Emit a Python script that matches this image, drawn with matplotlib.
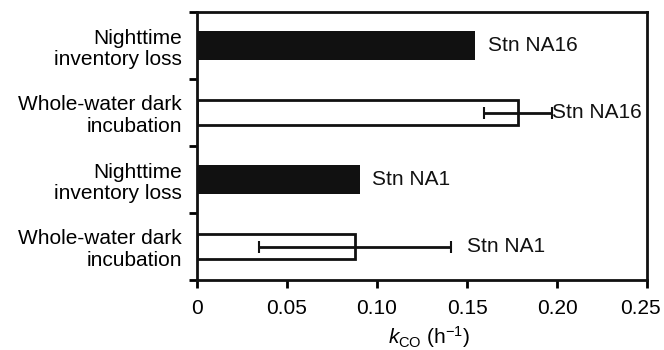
import matplotlib
matplotlib.use("Agg")
import matplotlib.pyplot as plt
from matplotlib.transforms import ScaledTranslation

plt.rcParams['font.family'] = ['Liberation Sans', 'DejaVu Sans']
plt.rcParams['mathtext.fontset'] = 'custom'
plt.rcParams['mathtext.rm'] = 'Liberation Sans'
plt.rcParams['mathtext.it'] = 'Liberation Sans:italic'

# Data (bottom to top)
categories = ["Whole-water dark\nincubation", "Nighttime\ninventory loss",
              "Whole-water dark\nincubation", "Nighttime\ninventory loss"]
values = [0.0875, 0.0903, 0.1783, 0.1547]
err_low = [0.0342, None, 0.1594, None]
err_high = [0.141, None, 0.197, None]
filled = [False, True, False, True]
station_labels = ["Stn NA1", "Stn NA1", "Stn NA16", "Stn NA16"]
label_x = [0.150, 0.097, 0.1975, 0.1617]
x_ticks = [0, 0.05, 0.10, 0.15, 0.20, 0.25]
x_ticklabels = ["0", "0.05", "0.10", "0.15", "0.20", "0.25"]

FS = 15
fig = plt.figure(figsize=(6.64, 3.5), dpi=100)
ax = fig.add_axes([197/664, 70/350, 450/664, 268/350])

lw = 2.0
ypos = list(range(len(categories)))
for y, v, f in zip(ypos, values, filled):
    if f:
        ax.barh(y, v, height=0.43, color='#111111', linewidth=0)
    else:
        ax.barh(y, v, height=0.38, color='white', edgecolor='#111111', linewidth=lw)

for y, v, lo, hi in zip(ypos, values, err_low, err_high):
    if lo is not None:
        ax.errorbar(v, y, xerr=[[v - lo], [hi - v]], fmt='none', ecolor='#111111',
                    elinewidth=2.0, capsize=4.5, capthick=1.5)

for y, lx, s in zip(ypos, label_x, station_labels):
    ax.text(lx, y, s, va='center', ha='left', fontsize=FS, color='#111111')

ax.set_xlim(0, 0.25)
ax.set_ylim(-0.5, 3.5)
ax.set_xticks(x_ticks)
ax.set_xticklabels(x_ticklabels, fontsize=FS)
ax.set_yticks(ypos)
ax.set_yticklabels(categories, fontsize=FS, ha='right', linespacing=1.15)
ax.set_yticks([-0.5, 0.5, 1.5, 2.5, 3.5], minor=True)
ax.tick_params(axis='y', which='major', length=0, pad=11)
ax.tick_params(axis='y', which='minor', length=6, width=2.0, direction='out')
ax.tick_params(axis='x', which='major', length=6, width=2.0, direction='out', pad=8)
for sp in ax.spines.values():
    sp.set_linewidth(2.0)
    sp.set_color('#111111')

# last tick label shifted left slightly, as in the reference
lab = ax.get_xticklabels()[-1]
lab.set_transform(lab.get_transform() + ScaledTranslation(-7/100, 0, fig.dpi_scale_trans))

ax.set_xlabel(r"$k_{\mathrm{CO}}$ (h$^{-1}$)", fontsize=FS, labelpad=1)
ax.xaxis.set_label_coords(0.515, -0.165)

fig.savefig("out.png", dpi=100)
